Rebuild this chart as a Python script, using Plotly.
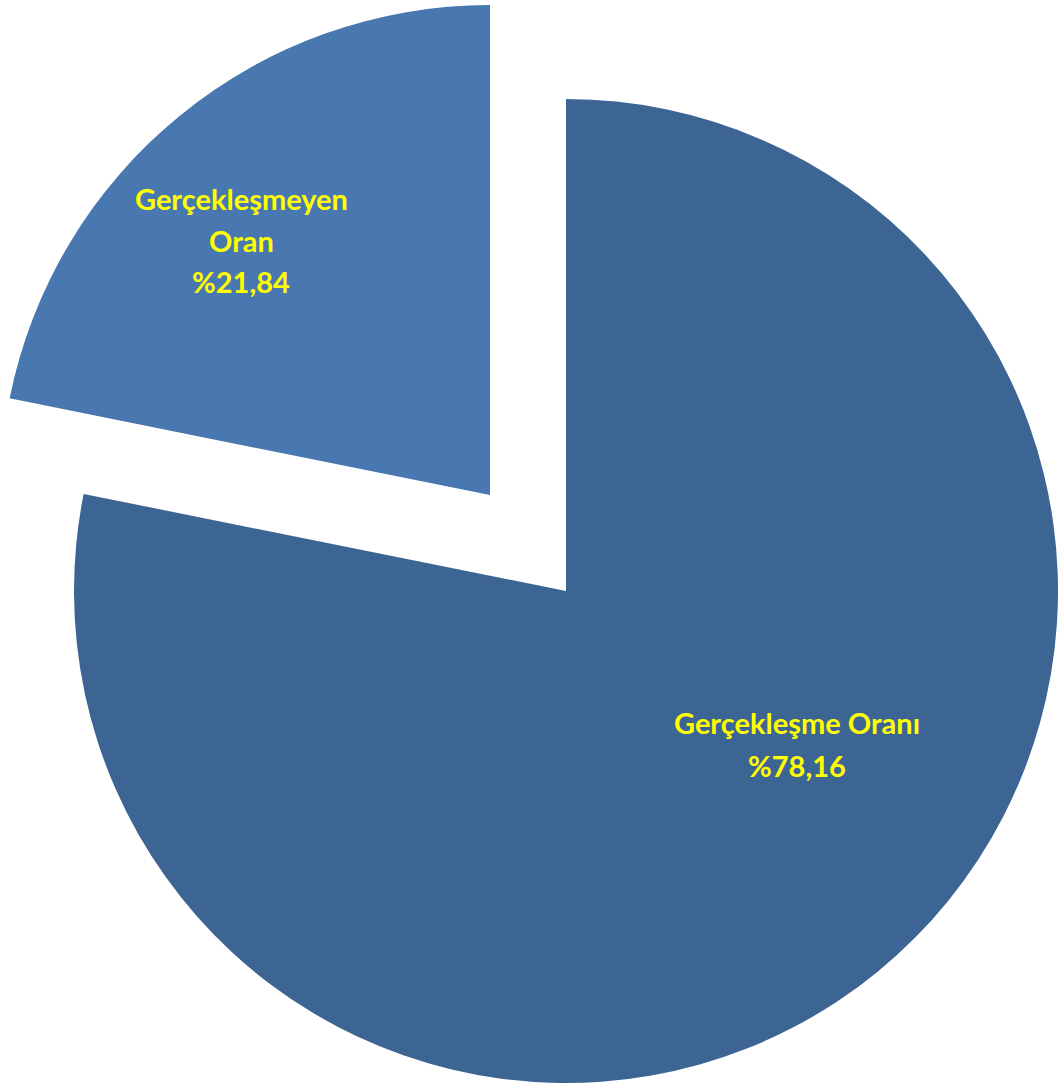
import plotly.graph_objects as go

# Data
categories = ["Gerçekleşme Oranı", "Gerçekleşmeyen Oran"]
values = [78.16, 21.84]
label_lines = [["Gerçekleşme Oranı"], ["Gerçekleşmeyen", "Oran"]]
slice_colors = ["#3D6594", "#4878AF"]

W, H = 1058, 1088
clear = "rgba(0,0,0,0)"

fig = go.Figure()

# Main pie (large slice), centred at ~ (566, 592) px
fig.add_trace(go.Pie(
    labels=categories, values=values, sort=False, direction="clockwise",
    rotation=0, textinfo="none", hoverinfo="skip", showlegend=False,
    marker=dict(colors=[slice_colors[0], clear], line=dict(width=0)),
    domain=dict(x=[74 / W, 1.0], y=[(H - 1084) / H, (H - 98) / H]),
))

# Exploded slice, drawn as its own pie shifted up-left
fig.add_trace(go.Pie(
    labels=categories, values=values, sort=False, direction="clockwise",
    rotation=0, textinfo="none", hoverinfo="skip", showlegend=False,
    marker=dict(colors=[clear, slice_colors[1]], line=dict(width=0)),
    domain=dict(x=[0.0, 980 / W], y=[(H - 986) / H, (H - 4) / H]),
))

# Labels (position of first line centre, in px, and line spacing)
label_pos = [(797, 722, 43), (241, 199, 41)]
annotations = []
for i, (lines, v) in enumerate(zip(label_lines, values)):
    x0, y0, dy = label_pos[i]
    all_lines = lines + ["%" + f"{v:.2f}".replace(".", ",")]
    for j, t in enumerate(all_lines):
        annotations.append(dict(
            text=t, x=x0 / W, y=1 - (y0 + j * dy) / H, xref="paper", yref="paper",
            xanchor="center", yanchor="middle", showarrow=False,
            font=dict(family="Lato", size=29, color="#FFFF00", weight="bold"),
        ))

fig.update_layout(
    width=W, height=H, margin=dict(l=0, r=0, t=0, b=0),
    paper_bgcolor="white", plot_bgcolor="white",
    annotations=annotations,
)

fig.write_html(
    "out.html",
    config={"displayModeBar": False},
    post_script="document.body.style.margin='0';document.body.style.overflow='hidden';",
)
